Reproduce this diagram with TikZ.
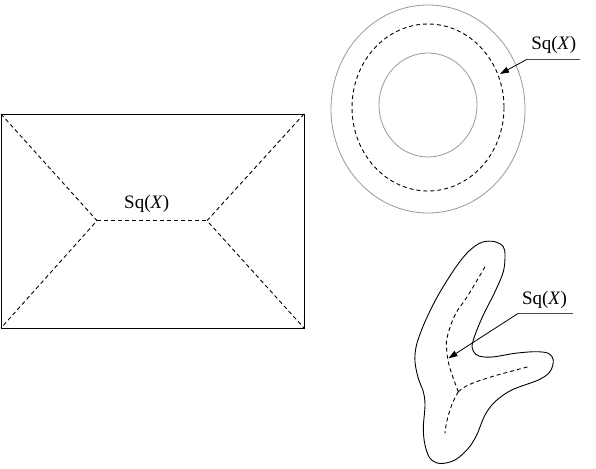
\documentclass[tikz,border=0pt]{standalone}
\usepackage{fontspec}
\setmainfont{Liberation Serif}
\usetikzlibrary{arrows.meta}
\tikzset{
  solidline/.style={draw=black, line width=0.9pt},
  dashline/.style={draw=black, line width=0.9pt, dash pattern=on 4pt off 3pt},
  greyline/.style={draw=black!40, line width=0.8pt},
  leader/.style={draw=black!70, line width=0.9pt},
  pointer/.style={draw=black, line width=0.8pt, -{Triangle[length=9pt,width=6pt]}},
  lbl/.style={inner sep=0pt, font=\fontsize{19}{22}\selectfont}
}
\begin{document}
\begin{tikzpicture}[x=1pt, y=-1pt]
\useasboundingbox (0,0) rectangle (596,468);
% rectangle
\coordinate (tl) at (1,114);
\coordinate (tr) at (304,114);
\coordinate (bl) at (1,328);
\coordinate (br) at (304,328);
\coordinate (ml) at (97,220.7);
\coordinate (mr) at (207,220.7);
\draw[solidline] (tl) rectangle (br);
\draw[dashline] (tl) -- (ml) -- (bl);
\draw[dashline] (tr) -- (mr) -- (br);
\draw[dashline] (ml) -- (mr);
\node[lbl] (rlab) at (146.7,204) {Sq(\textit{X})};
% circles
\draw[greyline] (428,109) ellipse [x radius=97, y radius=104];
\draw[dashline] (428,107.5) ellipse [x radius=76, y radius=83.5];
\draw[greyline] (428,105) ellipse [x radius=49, y radius=52];
\node[lbl] (clab) at (553.8,45) {Sq(\textit{X})};
\coordinate (cl1) at (527,59.3);
\coordinate (cl2) at (580,59.3);
\coordinate (ctip) at (500,74);
\draw[leader] (cl1) -- (cl2);
\draw[pointer] (cl1) -- (ctip);
% blob
\draw[solidline] plot[smooth cycle, tension=0.55] coordinates {
 (495,241.7) (503.3,246.7) (505,256) (503.3,271.7) (495,291.7) (483.3,315)
 (475,335) (472,347) (476,354.5) (484,357) (495,356.7) (515,353.3) (535,351.7)
 (548.3,353.3) (553.3,360) (550,371.7) (538.3,380) (511.7,390) (495,401.7)
 (485,415) (476.7,435) (468.3,448.3) (455,460) (440,463.5) (430,458.3)
 (425,445) (423.3,428.3) (425,405) (423.3,391.7) (418.3,378.3) (415,361.7)
 (416.5,345) (425,321.7) (438.3,295) (455,268.3) (468.3,251.7) (481.7,242.3)};
\coordinate (jn) at (458.3,391.7);
\draw[dashline] plot[smooth, tension=0.6] coordinates {
 (485,266.7) (468.3,295) (455,315) (447,338) (447,353) (449,365) (453.3,378.3) (jn)};
\draw[dashline] plot[smooth, tension=0.6] coordinates {
 (jn) (468.3,385) (491.7,376.7) (528.3,366.7)};
\draw[dashline] plot[smooth, tension=0.6] coordinates {
 (jn) (451.7,405) (446.7,421.7) (445,433.3)};
\node[lbl] (blab) at (544.5,300) {Sq(\textit{X})};
\coordinate (bl1) at (518.3,313.3);
\coordinate (bl2) at (573.3,313.3);
\coordinate (btip) at (448.5,358.3);
\draw[leader] (bl1) -- (bl2);
\draw[pointer] (bl1) -- (btip);
\end{tikzpicture}
\end{document}
